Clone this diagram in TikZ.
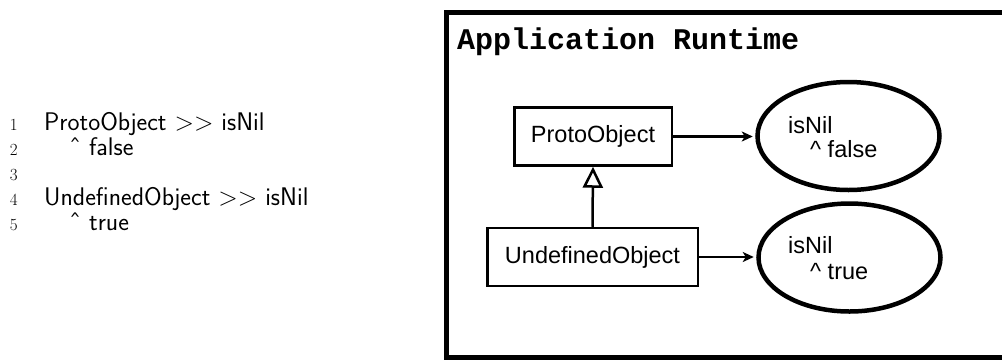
\documentclass[tikz,border=0pt]{standalone}
\usepackage{fontspec}
\setmainfont{Latin Modern Roman}
\setsansfont{Latin Modern Sans}
\newfontfamily\helv{Liberation Sans}
\newfontfamily\cour{Liberation Mono}
\usetikzlibrary{shapes.geometric,arrows.meta}
\tikzset{
  code/.style={anchor=base west, inner sep=0pt, font=\sffamily\fontsize{25.5}{29}\selectfont},
  lnum/.style={anchor=base east, inner sep=0pt, font=\rmfamily\fontsize{17}{19}\selectfont},
  cls/.style={draw, line width=2.5pt, rectangle, inner sep=0pt, minimum height=58pt, font=\helv\fontsize{23.5}{28}\selectfont},
  meth/.style={draw, line width=4.5pt, ellipse, inner sep=0pt, minimum width=182pt, minimum height=108pt},
  mtext/.style={anchor=base west, inner sep=0pt, font=\helv\fontsize{23.5}{28}\selectfont},
  call/.style={line width=2.5pt, shorten >=2.5pt, -{Stealth[length=11pt,width=10pt,inset=3pt]}},
  inherit/.style={line width=2.5pt, -{Triangle[open,length=21pt,width=20pt,line width=2.5pt]}},
}
\begin{document}
\begin{tikzpicture}[x=1pt,y=-1pt]
\useasboundingbox (0,0) rectangle (1002,360);
\clip (0,0) rectangle (1002,360);
% listing
\node[lnum] (n1) at (18,130) {1};
\node[lnum] (n2) at (18,155) {2};
\node[lnum] (n3) at (18,180) {3};
\node[lnum] (n4) at (18,205) {4};
\node[lnum] (n5) at (18,230) {5};
\node[code] (l1) at (44,130) {ProtoObject >{}> isNil};
\node[code] (l2) at (69,155) {ˆ false};
\node[code] (l4) at (44,205) {UndefinedObject >{}> isNil};
\node[code] (l5) at (69,230) {ˆ true};
% frame
\draw[line width=5pt] (446.5,12) rectangle (1020,357.5);
\node[anchor=base west, inner sep=0pt, font=\cour\bfseries\fontsize{30}{34}\selectfont] (title) at (457,49) {Application Runtime};
% classes
\node[cls, minimum width=157.5pt] (proto) at (593,136.5) {ProtoObject};
\node[cls, minimum width=210.5pt] (undef) at (592.5,257) {UndefinedObject};
% methods
\node[meth] (m1) at (848.5,136) {};
\node[meth] (m2) at (849.5,257.5) {};
\node[mtext] (t1a) at (788,133) {isNil};
\node[mtext] (t1b) at (810,157) {\textasciicircum{} false};
\node[mtext] (t2a) at (788,253) {isNil};
\node[mtext] (t2b) at (810,279) {\textasciicircum{} true};
% connectors
\draw[call] (proto.east) -- (m1.west |- proto.east);
\draw[call] (undef.east) -- (m2.west |- undef.east);
\draw[inherit] (undef.north) -- (proto.south);
\end{tikzpicture}
\end{document}
